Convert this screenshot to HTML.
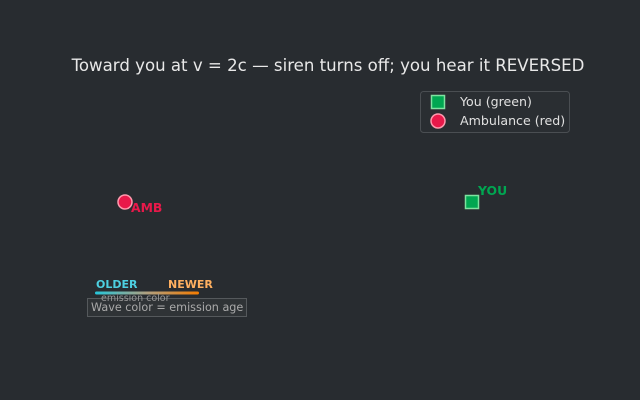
<!DOCTYPE html>
<html><head><meta charset="utf-8"><style>
html,body{margin:0;padding:0;background:#282c30;}
svg{display:block;}
text{font-family:"DejaVu Sans","Liberation Sans",sans-serif;}
</style></head><body>
<svg width="640" height="400" viewBox="0 0 640 400" xmlns="http://www.w3.org/2000/svg">
<defs><linearGradient id="g" x1="0" x2="1"><stop offset="0" stop-color="#26c6da"/><stop offset="0.5" stop-color="#b0a080"/><stop offset="1" stop-color="#f57c00"/></linearGradient></defs>
<rect width="640" height="400" fill="#282c30"/>
<text x="328" y="71" font-size="16.6" fill="#e8e8e8" text-anchor="middle">Toward you at v = 2c — siren turns off; you hear it REVERSED</text>
<rect x="420.5" y="91.5" width="149" height="41" rx="3" fill="#2a2e32" stroke="#4a4e52"/>
<rect x="431.5" y="95.5" width="13" height="13" fill="#00a651" stroke="#7ee2a0" stroke-width="1.5"/>
<text x="460" y="106" font-size="12.6" fill="#e0e0e0">You (green)</text>
<circle cx="438" cy="121" r="7" fill="#e8194a" stroke="#ff9aae" stroke-width="1.5"/>
<text x="460" y="125" font-size="12.6" fill="#e0e0e0">Ambulance (red)</text>
<rect x="465.5" y="195.5" width="13" height="13" fill="#00a651" stroke="#7ee2a0" stroke-width="1.5"/>
<text x="478" y="195" font-size="12.4" font-weight="bold" fill="#00a651">YOU</text>
<circle cx="125" cy="202" r="7" fill="#e8194a" stroke="#ff9aae" stroke-width="1.5"/>
<text x="131" y="212" font-size="12.4" font-weight="bold" fill="#e8194a">AMB</text>
<text x="96" y="288" font-size="11" font-weight="bold" fill="#4dd0e1">OLDER</text>
<text x="168" y="288" font-size="11" font-weight="bold" fill="#ffb060">NEWER</text>
<rect x="95" y="291.5" width="104" height="3" rx="1.5" fill="url(#g)"/>
<rect x="87.5" y="298.5" width="159" height="18" fill="#34383b" fill-opacity="0.6" stroke="#55595c"/>
<text x="101" y="301" font-size="9.5" fill="#999">emission color</text>
<text x="91" y="311" font-size="11.2" fill="#aaa">Wave color = emission age</text>
</svg>
</body></html>
